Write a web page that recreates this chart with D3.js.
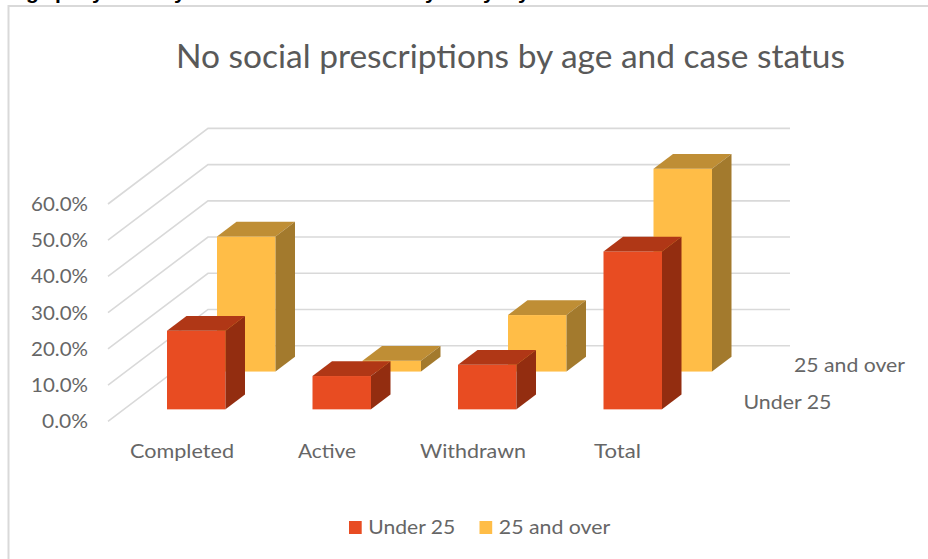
<!DOCTYPE html>
<html><head><meta charset="utf-8">
<script src="https://cdn.jsdelivr.net/npm/d3@7"></script>
<style>html,body{margin:0;padding:0;background:#fff}svg{display:block}text{font-family:Lato,"Open Sans",sans-serif}</style>
</head><body><div id="c"></div>
<script>
const categories = ["Completed","Active","Withdrawn","Total"];
const seriesNames = ["Under 25","25 and over"];
const under25 = [21.7,9.2,12.3,43.6];
const over25 = [37.3,3.0,15.6,56.0];
const yTicks = [0,10,20,30,40,50,60];
const frontColors = ["#E84C22","#FFBD47"];
const topColors = ["#B03716","#BF8E35"];
const sideColors = ["#932D10","#A37A2D"];
const W=928,H=559;
const svg=d3.select("#c").append("svg").attr("width",W).attr("height",H);
// clipped caption running off the top of the picture: only its descenders show
[["g",26],["p",55],["y",92],["y",174],["y",425],["y",483],["y",518]].forEach(([t,px])=>{
  svg.append("text").attr("x",px).attr("y",-1).attr("font-size",21).attr("font-weight",700)
    .attr("fill","#000").style("font-family","'Liberation Sans'").text(t);
});
// frame
svg.append("path").attr("d","M8.5 559V6H928").attr("fill","none").attr("stroke","#d9d9d9").attr("stroke-width",2);
// plot scales
const y=d3.scaleLinear().domain([0,60]).range([421.3,204]);
const x=d3.scaleBand().domain(categories).range([108,690]);
const dx=100,dy=-75.6; // full floor depth
const seriesOff=[0.158,0.658];
const barDepth=0.195;
const barW=58.5;
const grid=svg.append("g").attr("stroke","#d9d9d9").attr("stroke-width",1.6).attr("fill","none");
yTicks.forEach(t=>{
  grid.append("path").attr("d",`M${108} ${y(t)}L${108+dx} ${y(t)+dy}H790`);
});
svg.append("g").selectAll("text").data(yTicks).join("text")
  .attr("x",88).attr("y",t=>y(t)+7).attr("text-anchor","end").attr("font-size",20).attr("fill","#666")
  .attr("textLength",t=>t===0?46:57).attr("lengthAdjust","spacingAndGlyphs").text(t=>d3.format(".1f")(t)+"%");
svg.append("text").attr("x",176).attr("y",68).attr("font-size",33).attr("fill","#595959").attr("textLength",669).attr("lengthAdjust","spacingAndGlyphs").text("No social prescriptions by age and case status");
function drawBar(i,s,v){
  const o=seriesOff[s];
  const x0=x(categories[i])+(x.bandwidth()-barW)/2-0.3+o*dx;
  const y0=y(0)+o*dy;
  const h=y(0)-y(v);
  const ddx=barDepth*dx, ddy=barDepth*dy;
  const g=svg.append("g");
  g.append("rect").attr("x",x0).attr("y",y0-h).attr("width",barW).attr("height",h).attr("fill",frontColors[s]);
  g.append("path").attr("d",`M${x0} ${y0-h}l${ddx} ${ddy}h${barW}l${-ddx} ${-ddy}z`).attr("fill",topColors[s]);
  g.append("path").attr("d",`M${x0+barW} ${y0-h}l${ddx} ${ddy}v${h}l${-ddx} ${-ddy}z`).attr("fill",sideColors[s]);
}
over25.forEach((v,i)=>drawBar(i,1,v));
under25.forEach((v,i)=>drawBar(i,0,v));
const label=(px,py,len,t)=>svg.append("text").attr("x",px).attr("y",py).attr("font-size",20).attr("fill","#666")
  .attr("textLength",len).attr("lengthAdjust","spacingAndGlyphs").text(t);
const catX=[130,298,420,594],catLen=[104,58,106,47];
categories.forEach((c,i)=>label(catX[i],458,catLen[i],c));
label(794,372,111,seriesNames[1]);
label(743.5,409,88,seriesNames[0]);
const legX=[349,479.5],legLen=[87,111.5];
seriesNames.forEach((n,i)=>{
  svg.append("rect").attr("x",legX[i]).attr("y",521).attr("width",12.7).attr("height",13).attr("fill",frontColors[i]);
  label(legX[i]+19.3,534,legLen[i],n);
});
</script></body></html>
